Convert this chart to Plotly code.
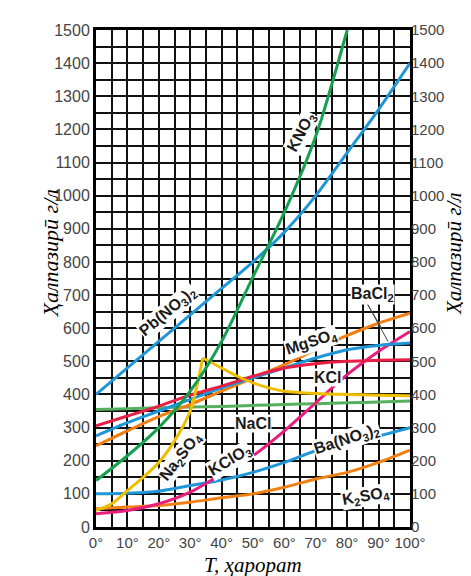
import plotly.graph_objects as go

# temperatures, degrees C
temps = [0, 10, 20, 30, 40, 50, 60, 70, 80, 90, 100]

# solubility, g/l
kno3_t = [0, 10, 20, 30, 40, 50, 60, 70, 80]
kno3 = [140, 215, 300, 410, 560, 755, 950, 1180, 1500]
pbno3 = [400, 480, 560, 640, 720, 800, 890, 1000, 1130, 1260, 1400]
na2so4_up_t = [0, 5, 10, 15, 20, 25, 30, 34]
na2so4_up = [50, 70, 110, 150, 195, 260, 350, 510]
na2so4_down_t = [34, 40, 45, 50, 55, 60, 70, 80, 90, 100]
na2so4_down = [510, 480, 455, 435, 420, 410, 403, 400, 398, 396]
nacl = [355, 357, 360, 362, 364, 367, 370, 372, 375, 377, 380]
kcl = [305, 335, 365, 398, 425, 455, 480, 493, 500, 503, 505]
bacl2 = [275, 315, 350, 385, 420, 450, 480, 510, 535, 548, 555]
mgso4 = [245, 290, 333, 370, 410, 450, 490, 535, 578, 615, 645]
kclo3 = [40, 50, 70, 105, 160, 215, 290, 375, 460, 530, 590]
bano3 = [100, 102, 108, 125, 142, 165, 195, 230, 255, 275, 300]
k2so4 = [55, 60, 65, 75, 88, 100, 120, 145, 165, 195, 232]

GREEN = "rgb(20,160,80)"
LGREEN = "rgb(85,175,95)"
BLUE = "rgb(30,150,215)"
YELLOW = "rgb(240,190,0)"
RED = "rgb(232,30,70)"
ORANGE = "rgb(240,128,20)"
PINK = "rgb(232,30,125)"

curves = [
    (temps, nacl, LGREEN),
    (temps, k2so4, ORANGE),
    (temps, bano3, BLUE),
    (temps, kclo3, PINK),
    (temps, mgso4, ORANGE),
    (temps, bacl2, BLUE),
    (temps, kcl, RED),
    (na2so4_up_t, na2so4_up, YELLOW),
    (na2so4_down_t, na2so4_down, YELLOW),
    (temps, pbno3, BLUE),
    (kno3_t, kno3, GREEN),
]

fig = go.Figure()
for xs, ys, col in curves:
    fig.add_trace(go.Scatter(x=xs, y=ys, mode="lines",
                             line=dict(color=col, width=3, shape="spline", smoothing=0.8),
                             hoverinfo="skip", showlegend=False))
# dummy trace so the right axis is drawn
fig.add_trace(go.Scatter(x=[0], y=[0], yaxis="y2", mode="lines",
                         line=dict(width=0), showlegend=False, hoverinfo="skip"))

labels = [
    ("Pb(NO<sub>3</sub>)<sub>2</sub>", 23, 650, -40),
    ("KNO<sub>3</sub>", 65.5, 1190, -62),
    ("BaCl<sub>2</sub>", 88, 703, 0),
    ("MgSO<sub>4</sub>", 68.5, 557, -18),
    ("KCl", 74, 450, 0),
    ("NaCl", 50, 311, 0),
    ("Na<sub>2</sub>SO<sub>4</sub>", 27, 214, -52),
    ("KClO<sub>3</sub>", 42.7, 200, -31),
    ("Ba(NO<sub>3</sub>)<sub>2</sub>", 80, 263, -18),
    ("K<sub>2</sub>SO<sub>4</sub>", 86, 92, -10),
]
for txt, x, y, ang in labels:
    fig.add_annotation(x=x, y=y, text="<b>" + txt + "</b>", textangle=ang, showarrow=False,
                       font=dict(family="Liberation Sans", size=16, color="#1a1a1a"),
                       bgcolor="white", borderpad=0)

# pointer lines from the BaCl2 label
for x1, y1 in [(91, 600), (93, 560)]:
    fig.add_shape(type="line", x0=86.5, y0=672, x1=x1, y1=y1,
                  line=dict(color="#444", width=1))

axis_common = dict(showline=True, linecolor="black", linewidth=3, mirror=True,
                   ticks="", zeroline=False)

fig.update_layout(
    width=471, height=576,
    margin=dict(l=88, r=69, t=22, b=57),
    paper_bgcolor="white", plot_bgcolor="white",
    xaxis=dict(range=[0, 100], dtick=10, ticksuffix="°",
               tickfont=dict(family="Liberation Sans", size=15, color="#444"),
               showgrid=True, gridcolor="#111", gridwidth=1.8,
               minor=dict(dtick=5, showgrid=True, gridcolor="#111", gridwidth=1.8),
               **axis_common),
    yaxis=dict(range=[0, 1500], dtick=100,
               tickfont=dict(family="Liberation Sans", size=16, color="#444"),
               showgrid=True, gridcolor="#111", gridwidth=1.8,
               minor=dict(dtick=50, showgrid=True, gridcolor="#111", gridwidth=1.8),
               **axis_common),
    yaxis2=dict(range=[0, 1500], dtick=100, overlaying="y", side="right",
                showgrid=False, showline=False, ticks="", zeroline=False,
                tickfont=dict(family="Liberation Sans", size=15, color="#444")),
)

title_font = dict(family="Liberation Serif", size=22, color="black")
fig.add_annotation(xref="paper", yref="paper", x=-0.19, y=0.55,
                   text="<i>Ҳалпазирӣ г/л</i>", textangle=-90, showarrow=False, font=title_font)
fig.add_annotation(xref="paper", yref="paper", x=1.183, y=0.55,
                   text="<i>Ҳалпазирӣ г/л</i>", textangle=-90, showarrow=False,
                   font=dict(family="Liberation Serif", size=21, color="black"))
fig.add_annotation(xref="paper", yref="paper", x=0.5, y=-0.104, yanchor="bottom",
                   text="<i>T, ҳарорат</i>", showarrow=False,
                   font=dict(family="Liberation Serif", size=21, color="black"))

fig.write_html("out.html")
